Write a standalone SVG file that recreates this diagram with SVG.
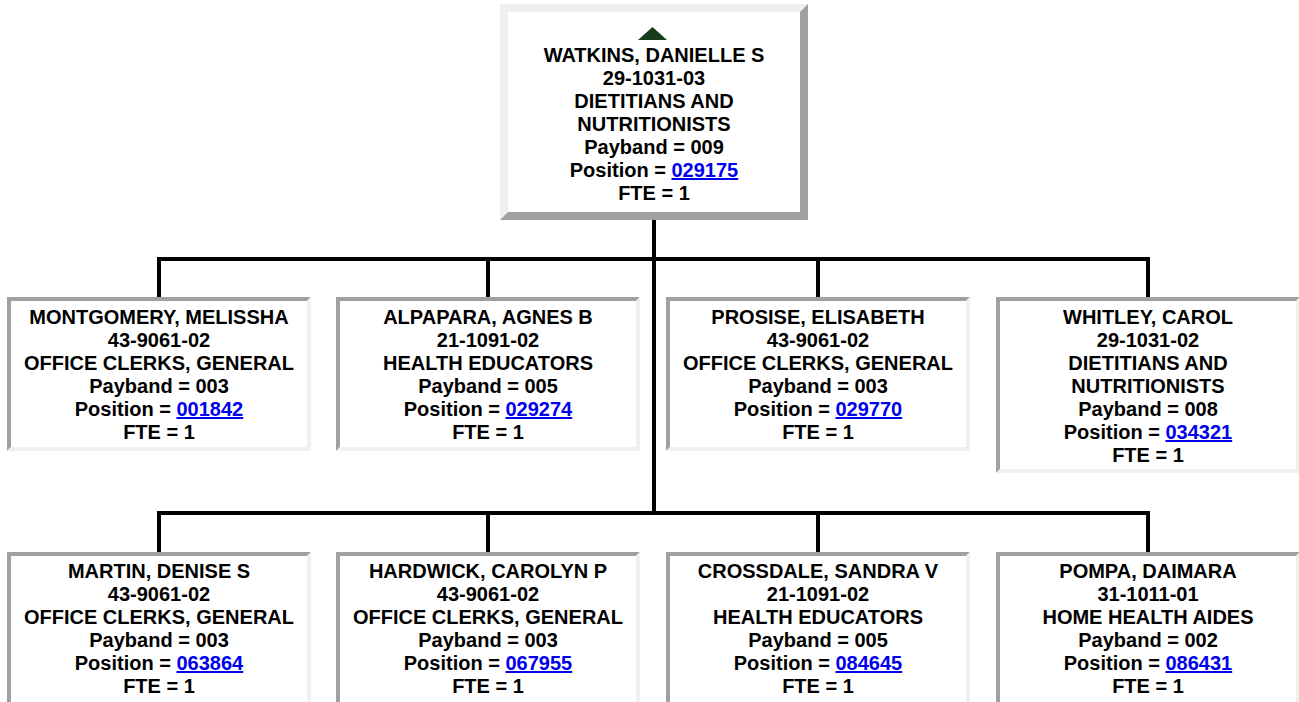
<svg xmlns="http://www.w3.org/2000/svg" width="1299" height="702" viewBox="0 0 1299 702">
<style>
.bg{fill:#ffffff}
.lt{fill:#f0f0f0}
.dk{fill:#a0a0a0}
.t{font-family:"Liberation Sans",Arial,sans-serif;font-size:20px;font-weight:bold;fill:#000;text-anchor:middle}
.lk{fill:#0000ee;text-decoration:underline}
.cn{fill:none;stroke:#000;stroke-width:4;stroke-linejoin:miter;stroke-linecap:square}
</style>
<rect width="1299" height="702" fill="#ffffff"/>
<g id="connectors">
<path class="cn" d="M654,222 V513"/>
<path class="cn" d="M159,296 V259 H1148 V296"/>
<path class="cn" d="M488,259 V296"/>
<path class="cn" d="M818,259 V296"/>
<path class="cn" d="M159,551 V513 H1148 V551"/>
<path class="cn" d="M488,513 V551"/>
<path class="cn" d="M818,513 V551"/>
</g>
<g id="n-watkins">
<rect class="bg" x="500" y="4" width="308" height="216"/>
<polygon class="lt" points="500,4 808,4 800,12 508,12 508,212 500,220"/>
<polygon class="dk" points="808,4 808,220 500,220 508,212 800,212 800,12"/>
<polygon points="638,40 667,40 652.5,27" fill="#163c1c"/>
<text class="t" x="654" y="62">WATKINS, DANIELLE S</text>
<text class="t" x="654" y="85">29-1031-03</text>
<text class="t" x="654" y="108">DIETITIANS AND</text>
<text class="t" x="654" y="131">NUTRITIONISTS</text>
<text class="t" x="654" y="154">Payband = 009</text>
<text class="t" x="654" y="177">Position = <tspan class="lk">029175</tspan></text>
<text class="t" x="654" y="200">FTE = 1</text>
</g>
<g id="n-montgomery">
<rect class="bg" x="7" y="297" width="304" height="154"/>
<polygon class="dk" points="7,297 311,297 307,301 11,301 11,447 7,451"/>
<polygon class="lt" points="311,297 311,451 7,451 11,447 307,447 307,301"/>
<text class="t" x="159" y="324">MONTGOMERY, MELISSHA</text>
<text class="t" x="159" y="347">43-9061-02</text>
<text class="t" x="159" y="370">OFFICE CLERKS, GENERAL</text>
<text class="t" x="159" y="393">Payband = 003</text>
<text class="t" x="159" y="416">Position = <tspan class="lk">001842</tspan></text>
<text class="t" x="159" y="439">FTE = 1</text>
</g>
<g id="n-alpapara">
<rect class="bg" x="336" y="297" width="304" height="154"/>
<polygon class="dk" points="336,297 640,297 636,301 340,301 340,447 336,451"/>
<polygon class="lt" points="640,297 640,451 336,451 340,447 636,447 636,301"/>
<text class="t" x="488" y="324">ALPAPARA, AGNES B</text>
<text class="t" x="488" y="347">21-1091-02</text>
<text class="t" x="488" y="370">HEALTH EDUCATORS</text>
<text class="t" x="488" y="393">Payband = 005</text>
<text class="t" x="488" y="416">Position = <tspan class="lk">029274</tspan></text>
<text class="t" x="488" y="439">FTE = 1</text>
</g>
<g id="n-prosise">
<rect class="bg" x="666" y="297" width="304" height="154"/>
<polygon class="dk" points="666,297 970,297 966,301 670,301 670,447 666,451"/>
<polygon class="lt" points="970,297 970,451 666,451 670,447 966,447 966,301"/>
<text class="t" x="818" y="324">PROSISE, ELISABETH</text>
<text class="t" x="818" y="347">43-9061-02</text>
<text class="t" x="818" y="370">OFFICE CLERKS, GENERAL</text>
<text class="t" x="818" y="393">Payband = 003</text>
<text class="t" x="818" y="416">Position = <tspan class="lk">029770</tspan></text>
<text class="t" x="818" y="439">FTE = 1</text>
</g>
<g id="n-whitley">
<rect class="bg" x="996" y="297" width="304" height="176"/>
<polygon class="dk" points="996,297 1300,297 1296,301 1000,301 1000,469 996,473"/>
<polygon class="lt" points="1300,297 1300,473 996,473 1000,469 1296,469 1296,301"/>
<text class="t" x="1148" y="324">WHITLEY, CAROL</text>
<text class="t" x="1148" y="347">29-1031-02</text>
<text class="t" x="1148" y="370">DIETITIANS AND</text>
<text class="t" x="1148" y="393">NUTRITIONISTS</text>
<text class="t" x="1148" y="416">Payband = 008</text>
<text class="t" x="1148" y="439">Position = <tspan class="lk">034321</tspan></text>
<text class="t" x="1148" y="462">FTE = 1</text>
</g>
<g id="n-martin">
<rect class="bg" x="7" y="552" width="304" height="160"/>
<polygon class="dk" points="7,552 311,552 307,556 11,556 11,712 7,712"/>
<polygon class="lt" points="311,552 311,712 307,712 307,556"/>
<text class="t" x="159" y="578">MARTIN, DENISE S</text>
<text class="t" x="159" y="601">43-9061-02</text>
<text class="t" x="159" y="624">OFFICE CLERKS, GENERAL</text>
<text class="t" x="159" y="647">Payband = 003</text>
<text class="t" x="159" y="670">Position = <tspan class="lk">063864</tspan></text>
<text class="t" x="159" y="693">FTE = 1</text>
</g>
<g id="n-hardwick">
<rect class="bg" x="336" y="552" width="304" height="160"/>
<polygon class="dk" points="336,552 640,552 636,556 340,556 340,712 336,712"/>
<polygon class="lt" points="640,552 640,712 636,712 636,556"/>
<text class="t" x="488" y="578">HARDWICK, CAROLYN P</text>
<text class="t" x="488" y="601">43-9061-02</text>
<text class="t" x="488" y="624">OFFICE CLERKS, GENERAL</text>
<text class="t" x="488" y="647">Payband = 003</text>
<text class="t" x="488" y="670">Position = <tspan class="lk">067955</tspan></text>
<text class="t" x="488" y="693">FTE = 1</text>
</g>
<g id="n-crossdale">
<rect class="bg" x="666" y="552" width="304" height="160"/>
<polygon class="dk" points="666,552 970,552 966,556 670,556 670,712 666,712"/>
<polygon class="lt" points="970,552 970,712 966,712 966,556"/>
<text class="t" x="818" y="578">CROSSDALE, SANDRA V</text>
<text class="t" x="818" y="601">21-1091-02</text>
<text class="t" x="818" y="624">HEALTH EDUCATORS</text>
<text class="t" x="818" y="647">Payband = 005</text>
<text class="t" x="818" y="670">Position = <tspan class="lk">084645</tspan></text>
<text class="t" x="818" y="693">FTE = 1</text>
</g>
<g id="n-pompa">
<rect class="bg" x="996" y="552" width="304" height="160"/>
<polygon class="dk" points="996,552 1300,552 1296,556 1000,556 1000,712 996,712"/>
<polygon class="lt" points="1300,552 1300,712 1296,712 1296,556"/>
<text class="t" x="1148" y="578">POMPA, DAIMARA</text>
<text class="t" x="1148" y="601">31-1011-01</text>
<text class="t" x="1148" y="624">HOME HEALTH AIDES</text>
<text class="t" x="1148" y="647">Payband = 002</text>
<text class="t" x="1148" y="670">Position = <tspan class="lk">086431</tspan></text>
<text class="t" x="1148" y="693">FTE = 1</text>
</g>
</svg>
